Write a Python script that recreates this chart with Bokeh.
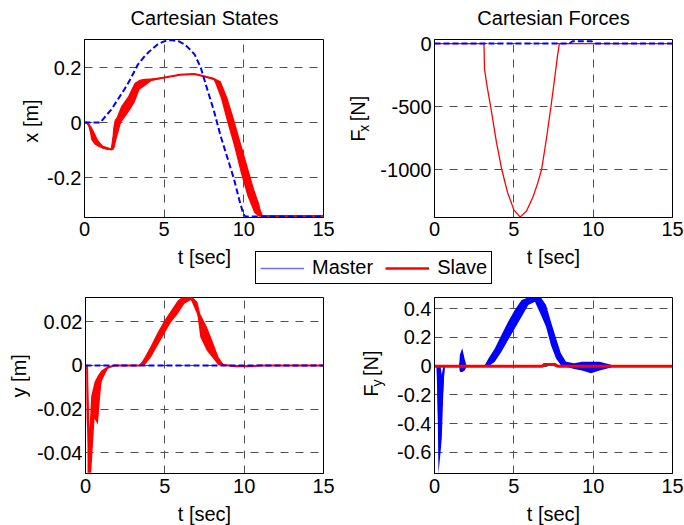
import numpy as np
from bokeh.plotting import figure
from bokeh.models import (Range1d, FixedTicker, CustomJSTickFormatter, Label,
                          Legend, LegendItem)
from bokeh.layouts import column, row
from bokeh.embed import file_html
from bokeh.resources import INLINE

FONT = "Liberation Sans"
BLUE = "#0000ff"
RED = "#ff0000"

# ---------------- data ----------------
x_ticks = [0, 5, 10, 15]

# Cartesian states, x [m]
tl_t_master = [0, 1.0, 1.3, 1.68, 2.1, 2.5, 2.9, 3.35, 3.8, 4.19, 4.6, 5.03, 5.45,
               5.9, 6.29, 6.6, 6.92, 7.3, 7.71, 8.13, 8.55, 8.97, 9.39, 9.71,
               9.98, 10.1, 15]
tl_x_master = [0, 0, 0.022, 0.047, 0.085, 0.12, 0.16, 0.211, 0.243, 0.265, 0.285,
               0.296, 0.300, 0.296, 0.284, 0.267, 0.247, 0.199, 0.12, 0.041,
               -0.05, -0.128, -0.207, -0.28, -0.334, -0.341, -0.341]
tl_t_slave = [0, 0.15, 0.3, 0.42, 0.63, 0.84, 1.15, 1.47, 1.7, 1.8, 1.9, 2.0, 2.3,
              2.73, 3.14, 3.46, 3.77, 4.2, 5.03, 6.0, 6.9, 7.55, 8.13, 8.55, 8.97,
              9.39, 9.81, 10.23, 10.65, 10.95, 11.15, 15]
tl_x_slave_lo = [0, 0, -0.02, -0.062, -0.08, -0.087, -0.095, -0.1, -0.1, -0.1,
                 -0.09, -0.062, 0.0, 0.035, 0.072, 0.12, 0.132, 0.151, 0.162,
                 0.172, 0.175, 0.166, 0.155, 0.09, -0.001, -0.086, -0.183,
                 -0.268, -0.328, -0.342, -0.342, -0.342]
tl_x_slave_hi = [0, 0, -0.005, -0.013, -0.036, -0.062, -0.084, -0.09, -0.095,
                 -0.02, 0.01, 0.017, 0.059, 0.095, 0.144, 0.156, 0.159, 0.16,
                 0.165, 0.176, 0.178, 0.169, 0.162, 0.15, 0.09, 0.011, -0.074,
                 -0.159, -0.243, -0.292, -0.338, -0.338]
tl_y_ticks = [-0.2, 0, 0.2]

# Cartesian forces, Fx [N]
tr_t_master = [0, 8.5, 8.7, 9.9, 10.1, 15]
tr_f_master = [0, 0, 18, 18, 0, 0]
tr_t_slave = [0, 3.12, 3.15, 3.3, 3.54, 3.9, 4.24, 4.6, 5.0, 5.4, 5.8, 6.2, 6.5,
              6.75, 7.05, 7.34, 7.6, 7.75, 7.87, 15]
tr_f_slave = [0, 0, -200, -330, -500, -780, -1000, -1180, -1320, -1378, -1330,
              -1220, -1110, -1000, -760, -500, -250, -100, 0, 0]
tr_y_ticks = [-1000, -500, 0]

# Cartesian states, y [m]
bl_t_master = [0, 15]
bl_y_master = [0, 0]
bl_t_slave = [0, 0.1, 0.13, 0.25, 0.36, 0.57, 0.78, 1.0, 1.4, 1.82, 3.4, 3.71,
              4.13, 4.55, 4.97, 5.39, 5.81, 6.23, 6.65, 7.06, 7.23, 7.65, 8.07,
              8.39, 8.7, 9.5, 10.5, 11.0, 15]
bl_y_slave_lo = [0, 0, -0.049, -0.049, -0.049, -0.0244, -0.027, -0.0076, -0.0015,
                 0, 0, 0, 0.0038, 0.0092, 0.0145, 0.0198, 0.0236, 0.0282, 0.030,
                 0.023, 0.013, 0.0068, 0.003, 0, 0, -0.0006, -0.0006, 0, 0]
bl_y_slave_hi = [0, 0, 0, -0.029, -0.014, -0.0076, -0.0046, -0.0023, -0.0003, 0,
                 0, 0.0035, 0.0092, 0.0152, 0.0206, 0.0252, 0.0297, 0.032, 0.032,
                 0.029, 0.0237, 0.0177, 0.0099, 0.0038, 0.0004, 0, 0, 0, 0]
bl_y_ticks = [-0.04, -0.02, 0, 0.02]

# Cartesian forces, Fy [N]
br_t_master = [0, 0.15, 0.2, 0.25, 0.38, 0.46, 0.55, 0.63, 1.55, 1.6, 1.75, 1.9,
               2.0, 2.1, 3.16, 3.38, 3.8, 4.22, 4.64, 5.06, 5.49, 5.91, 6.33,
               6.71, 7.03, 7.34, 7.66, 7.97, 8.29, 8.8, 9.3, 9.87, 10.4, 11.14,
               11.2, 15]
br_f_master_lo = [0, 0, -0.3, -0.746, -0.6, -0.5, -0.2, 0, 0, -0.04, -0.04, -0.03,
                  -0.01, 0, 0, -0.005, 0.03, 0.1, 0.181, 0.262, 0.343, 0.425,
                  0.448, 0.355, 0.274, 0.146, 0.053, 0.007, -0.004, -0.02, -0.03,
                  -0.05, -0.03, -0.01, 0, 0]
br_f_master_hi = [0, 0, 0, 0, 0, -0.06, 0, 0, 0, 0.08, 0.124, 0.05, 0.01, 0,
                  0.005, 0.05, 0.123, 0.216, 0.309, 0.39, 0.46, 0.477, 0.477,
                  0.477, 0.425, 0.309, 0.193, 0.088, 0.03, 0.02, 0.03, 0.03,
                  0.03, 0.01, 0, 0]
br_t_slave = [0, 6.8, 6.9, 7.6, 7.76, 15]
br_f_slave = [0, 0, 0.012, 0.012, 0, 0]
br_y_ticks = [-0.6, -0.4, -0.2, 0, 0.2, 0.4]

# ---------------- helpers ----------------
fmt = CustomJSTickFormatter(code="return String(Math.round(tick*1e6)/1e6);")


def make_fig(w, h, bl, br, bt, bb, xr, yr, yticks, xstand):
    p = figure(width=w, height=h, x_range=Range1d(*xr), y_range=Range1d(*yr),
               output_backend="svg", toolbar_location=None, title=None,
               min_border_left=bl, min_border_right=br, min_border_top=bt,
               min_border_bottom=bb)
    p.background_fill_color = "white"
    p.border_fill_color = "white"
    p.outline_line_color = "black"
    p.outline_line_width = 1
    p.outline_line_alpha = 1
    p.xaxis.ticker = FixedTicker(ticks=x_ticks)
    p.yaxis.ticker = FixedTicker(ticks=yticks)
    for ax in (p.xaxis[0], p.yaxis[0]):
        ax.formatter = fmt
        ax.axis_line_color = "black"
        ax.major_tick_in = 0
        ax.major_tick_out = 0
        ax.minor_tick_line_color = None
        ax.major_label_text_font = FONT
        ax.major_label_text_font_size = "20px"
        ax.major_label_text_color = "black"
    p.xaxis.major_label_standoff = xstand
    p.yaxis.major_label_standoff = 3
    for g in (p.xgrid[0], p.ygrid[0]):
        g.grid_line_color = "#505050"
        g.grid_line_dash = "8 7"
        g.grid_line_width = 1
    return p


def canvas(x0, y0, w, h):
    """A blank drawing area whose data units are the page's pixels."""
    c = figure(width=w, height=h, x_range=Range1d(x0, x0 + w),
               y_range=Range1d(y0 + h, y0), output_backend="svg",
               toolbar_location=None, title=None, x_axis_type=None,
               y_axis_type=None, min_border=0, min_border_left=0,
               min_border_right=0, min_border_top=0, min_border_bottom=0)
    c.outline_line_color = None
    c.xgrid.visible = False
    c.ygrid.visible = False
    c.background_fill_color = "white"
    c.border_fill_color = "white"
    return c


def lab(c, text, x, y, size=20, align="center", vertical=False):
    """Place a text whose baseline passes through (x, y) on the page."""
    shift = 0.35 * size  # measured offset of the rendered baseline
    if vertical:
        c.add_layout(Label(x=x - shift, y=y, text=text, text_font=FONT,
                           text_font_size=f"{size}px", text_color="black",
                           text_align=align, text_baseline="alphabetic",
                           angle=np.pi / 2))
    else:
        c.add_layout(Label(x=x, y=y - shift, text=text, text_font=FONT,
                           text_font_size=f"{size}px", text_color="black",
                           text_align=align, text_baseline="alphabetic"))


def sub_label(c, main, sub, rest, x, y_start):
    """Vertical label such as F_x [N], reading upward from y_start."""
    lab(c, main, x, y_start, align="left", vertical=True)
    y = y_start - 0.611 * 20
    lab(c, sub, x + 4, y, size=14, align="left", vertical=True)
    y -= 0.5 * 14 + 0.278 * 20
    lab(c, rest, x, y, align="left", vertical=True)


def mid(lo, hi):
    return [(a + b) / 2 for a, b in zip(lo, hi)]


# ---------------- page layout (pixels) ----------------
top = canvas(0, 0, 684, 30)
lab(top, "Cartesian States", 204, 24)
lab(top, "Cartesian Forces", 553, 24)

# row 1 (y 30..244), frames y 39..217
R1Y, R1H = 30, 214
ylab_tl = canvas(0, R1Y, 44, R1H)
lab(ylab_tl, "x [m]", 37, 128, vertical=True)

tl = make_fig(296, R1H, 40, 17, 9, 27, (0, 15), (-0.345, 0.302), tl_y_ticks, 4)
tl.varea(x=tl_t_slave, y1=tl_x_slave_lo, y2=tl_x_slave_hi, fill_color=RED)
tl.line(tl_t_slave, mid(tl_x_slave_lo, tl_x_slave_hi), line_color=RED, line_width=2)
tl.line(tl_t_master, tl_x_master, line_color=BLUE, line_width=2, line_dash="6 3")

ylab_tr = canvas(340, R1Y, 36, R1H)
sub_label(ylab_tr, "F", "x", "[N]", 364, 153)

tr = make_fig(308, R1H, 58, 12, 9, 27, (0, 15), (-1381, 32), tr_y_ticks, 4)
tr.line(tr_t_slave, tr_f_slave, line_color=RED, line_width=1.3)
tr.line(tr_t_master, tr_f_master, line_color=BLUE, line_width=2, line_dash="6 3")

# middle strip (y 244..292): x labels of top row and the legend
MY, MH = 244, 48
st = canvas(0, MY, 684, MH)
lab(st, "t [sec]", 204, 263)
lab(st, "t [sec]", 553, 263)
st.extra_y_ranges = {"off": Range1d(100, 101)}
r_m = st.line(bl_t_master, bl_y_master, y_range_name="off",
              line_color="#6f6fff", line_width=1.5)
r_s = st.line(bl_t_master, bl_y_master, y_range_name="off",
              line_color=RED, line_width=2.5)
leg = Legend(items=[LegendItem(label="Master", renderers=[r_m]),
                    LegendItem(label="Slave", renderers=[r_s])],
             orientation="horizontal", location=(255, MY + MH - 284),
             glyph_width=44, label_standoff=8, spacing=12, padding=4,
             label_text_font=FONT, label_text_font_size="20px",
             label_text_color="black", border_line_color="black",
             border_line_width=1, border_line_alpha=1,
             background_fill_color="white", background_fill_alpha=1)
st.add_layout(leg)

# row 2 (y 292..501), frames y 297..473
R2Y, R2H = 292, 209
ylab_bl = canvas(0, R2Y, 30, R2H)
lab(ylab_bl, "y [m]", 25, 385, vertical=True)

bl = make_fig(310, R2H, 55, 17, 5, 28, (0, 15), (-0.0494, 0.0311), bl_y_ticks, 5)
bl.varea(x=bl_t_slave, y1=bl_y_slave_lo, y2=bl_y_slave_hi, fill_color=RED)
bl.line(bl_t_slave, mid(bl_y_slave_lo, bl_y_slave_hi), line_color=RED, line_width=2)
bl.line(bl_t_master, bl_y_master, line_color=BLUE, line_width=2, line_dash="6 3")

ylab_br = canvas(340, R2Y, 46, R2H)
sub_label(ylab_br, "F", "y", "[N]", 377, 410)

br = make_fig(298, R2H, 48, 12, 5, 28, (0, 15), (-0.746, 0.477), br_y_ticks, 5)
br.varea(x=br_t_master, y1=br_f_master_lo, y2=br_f_master_hi, fill_color=BLUE)
br.line(br_t_master, mid(br_f_master_lo, br_f_master_hi), line_color=BLUE, line_width=1)
br.line(br_t_slave, br_f_slave, line_color=RED, line_width=3)

# bottom strip (y 501..525): x labels of bottom row
bot = canvas(0, 501, 684, 24)
lab(bot, "t [sec]", 204, 520)
lab(bot, "t [sec]", 553, 520)

layout = column(top,
                row(ylab_tl, tl, ylab_tr, tr),
                st,
                row(ylab_bl, bl, ylab_br, br),
                bot)
open("out.html", "w").write(file_html(layout, INLINE))
